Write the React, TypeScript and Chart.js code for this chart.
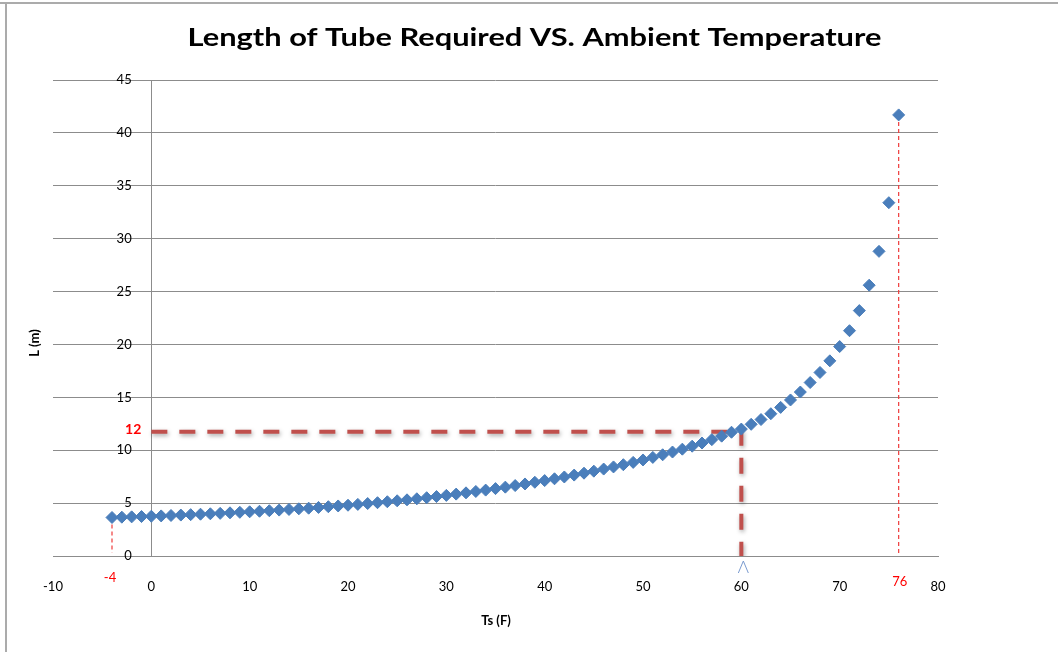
import React, { useEffect, useRef } from "react";
import { Chart, registerables } from "chart.js";

Chart.register(...registerables);

// ---------- data ----------
const temperatures: number[] = [
  -4, -3, -2, -1, 0, 1, 2, 3, 4, 5, 6, 7, 8, 9, 10, 11, 12, 13, 14, 15, 16, 17, 18, 19, 20,
  21, 22, 23, 24, 25, 26, 27, 28, 29, 30, 31, 32, 33, 34, 35, 36, 37, 38, 39, 40, 41, 42, 43,
  44, 45, 46, 47, 48, 49, 50, 51, 52, 53, 54, 55, 56, 57, 58, 59, 60, 61, 62, 63, 64, 65, 66,
  67, 68, 69, 70, 71, 72, 73, 74, 75, 76,
];
const lengths: number[] = [
  3.64, 3.67, 3.7, 3.73, 3.76, 3.79, 3.83, 3.87, 3.91, 3.95, 3.99, 4.03, 4.08, 4.13, 4.18,
  4.23, 4.28, 4.34, 4.4, 4.46, 4.52, 4.59, 4.66, 4.73, 4.8, 4.88, 4.96, 5.04, 5.13, 5.22,
  5.31, 5.41, 5.51, 5.62, 5.73, 5.85, 5.97, 6.1, 6.23, 6.37, 6.51, 6.66, 6.81, 6.97, 7.13,
  7.3, 7.47, 7.65, 7.83, 8.02, 8.22, 8.42, 8.63, 8.85, 9.08, 9.32, 9.57, 9.83, 10.1, 10.38,
  10.68, 11.0, 11.33, 11.7, 12.0, 12.45, 12.9, 13.45, 14.05, 14.75, 15.5, 16.4, 17.35, 18.45,
  19.8, 21.3, 23.2, 25.6, 28.8, 33.4, 41.7,
];
const xTicks: number[] = [-10, 0, 10, 20, 30, 40, 50, 60, 70, 80];
const yTicks: number[] = [0, 5, 10, 15, 20, 25, 30, 35, 40, 45];

const titleText = "Length of Tube Required VS. Ambient Temperature";
const xTitle = "Ts (F)";
const yTitle = "L (m)";

// guide annotation values
const guideT = 60;
const guideL = 11.75;
const guideLabel = "12";
const lowT = -4;
const highT = 76;
const lowLabel = "-4";
const highLabel = "76";

export default function App() {
  const canvasRef = useRef<HTMLCanvasElement | null>(null);

  useEffect(() => {
    if (!canvasRef.current) return;

    const points = temperatures.map((t, i) => ({ x: t, y: lengths[i] }));
    const lowIdx = temperatures.indexOf(lowT);
    const highIdx = temperatures.indexOf(highT);

    const decor = {
      id: "decor",
      beforeDraw(chart: any) {
        const ctx = chart.ctx;
        ctx.save();
        ctx.fillStyle = "#ffffff";
        ctx.fillRect(0, 0, chart.width, chart.height);
        ctx.fillStyle = "#ababab";
        ctx.fillRect(0, 2, chart.width, 2);
        ctx.fillRect(5, 2, 2, chart.height - 2);
        ctx.restore();
      },
      beforeDatasetDraw(chart: any, args: any) {
        if (args.index === 1) {
          const ctx = chart.ctx;
          ctx.save();
          ctx.shadowColor = "rgba(0,0,0,0.35)";
          ctx.shadowBlur = 4;
          ctx.shadowOffsetX = 1;
          ctx.shadowOffsetY = 2;
        }
      },
      afterDatasetDraw(chart: any, args: any) {
        if (args.index === 1) chart.ctx.restore();
      },
      afterDraw(chart: any) {
        const ctx = chart.ctx;
        const xs = chart.scales.x;
        const ys = chart.scales.y;
        ctx.save();
        // title
        ctx.font = "bold 24px Lato";
        const w = ctx.measureText(titleText).width;
        ctx.translate(534.5, 46);
        ctx.scale(694 / w, 1);
        ctx.fillStyle = "#000000";
        ctx.textAlign = "center";
        ctx.textBaseline = "alphabetic";
        ctx.fillText(titleText, 0, 0);
        ctx.restore();

        ctx.save();
        ctx.fillStyle = "#000000";
        ctx.font = "bold 13px Lato";
        ctx.textAlign = "center";
        ctx.textBaseline = "middle";
        ctx.fillText(xTitle, 496, 621);
        ctx.translate(35, 343);
        ctx.rotate(-Math.PI / 2);
        ctx.fillText(yTitle, 0, 0);
        ctx.restore();

        // red annotation labels
        ctx.save();
        ctx.fillStyle = "#ff0000";
        ctx.font = "bold 14px Lato";
        ctx.textAlign = "right";
        ctx.textBaseline = "middle";
        ctx.fillText(guideLabel, xs.getPixelForValue(0) - 10, ys.getPixelForValue(12));
        ctx.font = "13px Lato";
        ctx.textAlign = "center";
        ctx.fillText(lowLabel, xs.getPixelForValue(lowT) - 2, 578);
        ctx.fillText(highLabel, xs.getPixelForValue(highT) + 1, 582);
        ctx.restore();

        // small blue arrow under the 60 mark
        const ax = xs.getPixelForValue(guideT) + 2;
        ctx.save();
        ctx.strokeStyle = "#7a9bd0";
        ctx.lineWidth = 1;
        ctx.beginPath();
        ctx.moveTo(ax - 5, 573);
        ctx.lineTo(ax, 561);
        ctx.lineTo(ax + 5, 573);
        ctx.stroke();
        ctx.restore();
      },
    };

    const chart = new Chart(canvasRef.current, {
      type: "scatter",
      data: {
        datasets: [
          {
            label: "L",
            data: points,
            showLine: false,
            pointStyle: "rectRot",
            pointRadius: 6,
            pointBackgroundColor: "#4a7ebb",
            pointBorderColor: "#4a7ebb",
            pointBorderWidth: 1,
            order: 0,
          },
          {
            label: "guide",
            data: [
              { x: 0, y: guideL },
              { x: guideT, y: guideL },
              { x: guideT, y: 0 },
            ],
            showLine: true,
            borderColor: "#c0504d",
            borderWidth: 4,
            borderDash: [16, 12],
            pointRadius: 0,
            fill: false,
            order: 2,
          },
          {
            label: "low",
            data: [
              { x: lowT, y: lengths[lowIdx] },
              { x: lowT, y: 0.3 },
            ],
            showLine: true,
            borderColor: "#ee3b3b",
            borderWidth: 1.2,
            borderDash: [4, 3],
            pointRadius: 0,
            order: 3,
          },
          {
            label: "high",
            data: [
              { x: highT, y: lengths[highIdx] },
              { x: highT, y: 0 },
            ],
            showLine: true,
            borderColor: "#ee3b3b",
            borderWidth: 1.2,
            borderDash: [4, 3],
            pointRadius: 0,
            order: 3,
          },
        ],
      },
      options: {
        animation: false,
        responsive: false,
        maintainAspectRatio: false,
        devicePixelRatio: 1,
        layout: { padding: { left: 53, right: 120, top: 80, bottom: 96 } },
        plugins: {
          legend: { display: false },
          tooltip: { enabled: false },
          title: { display: false },
        },
        scales: {
          x: {
            type: "linear",
            min: xTicks[0],
            max: xTicks[xTicks.length - 1],
            position: { y: 0 } as any,
            afterBuildTicks: (s: any) => {
              s.ticks = xTicks.map((v) => ({ value: v }));
            },
            ticks: {
              padding: 15,
              color: "#000000",
              font: { family: "Lato", size: 13 },
              maxRotation: 0,
            },
            grid: { display: false },
            border: { display: true, color: "#8c8c8c", width: 1 },
          },
          y: {
            type: "linear",
            min: yTicks[0],
            max: yTicks[yTicks.length - 1],
            position: { x: 0 } as any,
            afterBuildTicks: (s: any) => {
              s.ticks = yTicks.map((v) => ({ value: v }));
            },
            ticks: { display: false },
            grid: { display: true, color: "#8c8c8c", lineWidth: 1, drawTicks: false },
            border: { display: true, color: "#8c8c8c", width: 1 },
          },
          yLabels: {
            type: "linear",
            axis: "y",
            min: yTicks[0],
            max: yTicks[yTicks.length - 1],
            position: { x: -2 } as any,
            afterBuildTicks: (s: any) => {
              s.ticks = yTicks.map((v) => ({ value: v }));
            },
            ticks: {
              color: "#000000",
              font: { family: "Lato", size: 13 },
            },
            grid: { display: false, drawTicks: false },
            border: { display: false },
          },
        },
      },
      plugins: [decor],
    });

    return () => chart.destroy();
  }, []);

  return (
    <div
      style={{
        position: "fixed",
        left: 0,
        top: 0,
        width: 1058,
        height: 652,
        background: "#ffffff",
      }}
    >
      <canvas ref={canvasRef} width={1058} height={652} style={{ display: "block" }} />
    </div>
  );
}
